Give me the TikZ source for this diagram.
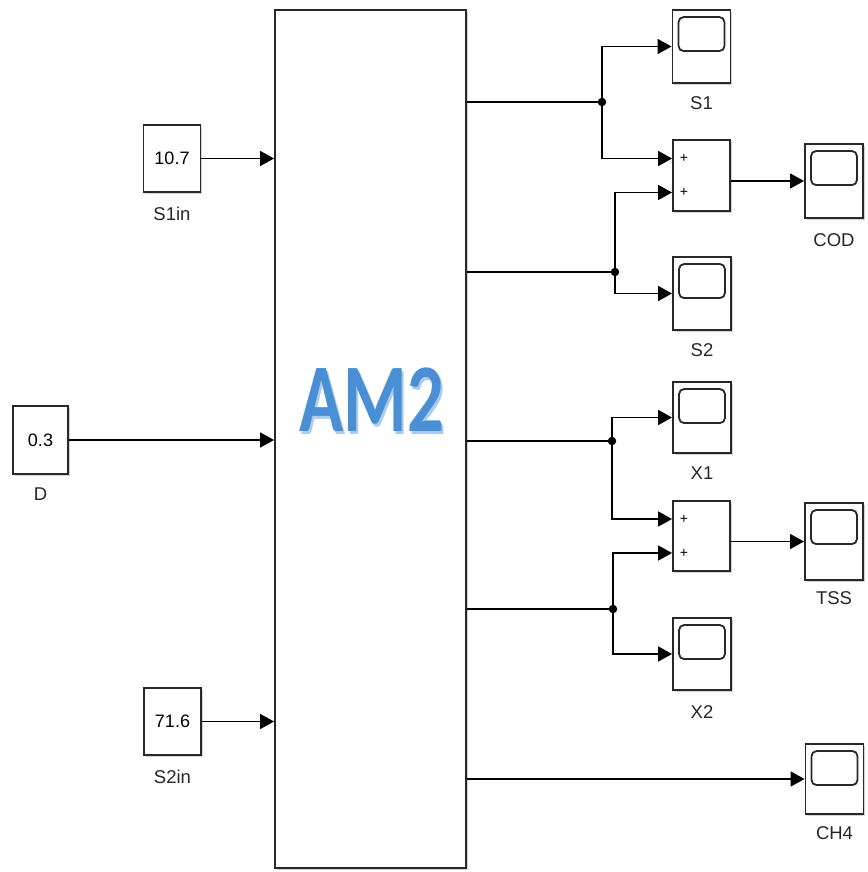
\documentclass[tikz,border=0pt]{standalone}
\usepackage{fontspec}
\setmainfont{Liberation Sans}
\newfontfamily\amfont{Carlito}
\usetikzlibrary{arrows.meta,shadows,calc}
\definecolor{amblue}{RGB}{74,143,214}
\definecolor{amglow}{RGB}{170,205,238}
\definecolor{edge}{RGB}{40,40,40}
\tikzset{
  blk/.style={draw=edge, line width=1.9pt, fill=white, inner sep=0pt,
    drop shadow={shadow xshift=1.8pt, shadow yshift=-2pt, opacity=0.35, fill=gray}},
  constblk/.style={blk, minimum width=57pt, minimum height=67pt, font=\fontsize{18}{20}\selectfont},
  scopeblk/.style={blk, minimum width=58pt, minimum height=72pt},
  sumblk/.style={blk, minimum width=57pt, minimum height=70pt},
  lbl/.style={font=\fontsize{18.5}{20}\selectfont, text=black!85, inner sep=0pt},
  wire/.style={line width=1.7pt, draw=black},
  sig/.style={wire, -{Triangle[length=14pt,width=15pt]}},
  dotn/.style={circle, fill=black, minimum size=8.5pt, inner sep=0pt},
  plus/.style={font=\fontsize{14}{14}\selectfont, inner sep=0pt},
}
\newcommand{\scopescreen}[1]{%
  \draw[line width=1.8pt, draw=edge, rounded corners=5pt]
    ($(#1.north west)+(7,8)$) rectangle ($(#1.north east)+(-7,42)$);}
\newcommand{\amtext}{\fontsize{97}{97}\amfont\bfseries AM2}
\begin{document}
\begin{tikzpicture}[x=1pt,y=-1pt]
\useasboundingbox (0,0) rectangle (867,872);
% main block
\node[blk, minimum width=191pt, minimum height=858pt] (main) at (370.5,439) {};
\node[inner sep=0pt] (am) at (372,401) {\scalebox{0.75}[1]{\makebox[0pt][l]{\hspace{2.5pt}\raisebox{-2.5pt}{\textcolor{amglow}{\amtext}}}\textcolor{amblue}{\amtext}}};
% constants
\node[constblk] (c1) at (172,158.5) {10.7};
\node[lbl] (c1l) at (172,214) {S1in};
\node[constblk, minimum width=55pt, minimum height=68pt] (cD) at (40.5,440) {0.3};
\node[lbl] (cDl) at (40.5,494) {D};
\node[constblk] (c2) at (172.5,721.5) {71.6};
\node[lbl] (c2l) at (172.5,777) {S2in};
\draw[sig] (c1) -- (c1 -| main.west);
\draw[sig] (cD) -- (cD -| main.west);
\draw[sig] (c2) -- (c2 -| main.west);
% scopes
\node[scopeblk, minimum height=73pt] (S1) at (701.5,46.5) {};
\node[lbl] (S1l) at (701.5,103) {S1};
\node[sumblk, minimum height=71pt] (sum1) at (701.5,175.5) {};
\node[scopeblk, minimum height=74pt] (COD) at (834,181) {};
\node[lbl] (CODl) at (834,240) {COD};
\node[scopeblk, minimum height=73pt] (S2) at (702,293.5) {};
\node[lbl] (S2l) at (702,350) {S2};
\node[scopeblk, minimum height=71pt] (X1) at (702,417.5) {};
\node[lbl] (X1l) at (702,473) {X1};
\node[sumblk] (sum2) at (701.5,536) {};
\node[scopeblk, minimum height=77pt] (TSS) at (834,541.5) {};
\node[lbl] (TSSl) at (834,598) {TSS};
\node[scopeblk] (X2) at (702,654) {};
\node[lbl] (X2l) at (702,712) {X2};
\node[scopeblk, minimum height=70pt] (CH4) at (834.5,779) {};
\node[lbl] (CH4l) at (834.5,833) {CH4};
\foreach \s in {S1,COD,S2,X1,TSS,X2,CH4} {\scopescreen{\s}}
% sum inputs
\coordinate (s1a) at ([yshift=17pt]sum1.west);
\coordinate (s1b) at ([yshift=-17pt]sum1.west);
\coordinate (s2a) at ([yshift=17pt]sum2.west);
\coordinate (s2b) at ([yshift=-17pt]sum2.west);
\node[plus] (p1a) at ([xshift=12pt]s1a) {+};
\node[plus] (p1b) at ([xshift=12pt]s1b) {+};
\node[plus] (p2a) at ([xshift=12pt]s2a) {+};
\node[plus] (p2b) at ([xshift=12pt]s2b) {+};
% junctions
\node[dotn] (j1) at (602,102) {};
\node[dotn] (j2) at (615,272) {};
\node[dotn] (j3) at (612,441) {};
\node[dotn] (j4) at (613,609) {};
\draw[wire] (j1 -| main.east) -- (j1.center);
\draw[wire] (j2 -| main.east) -- (j2.center);
\draw[wire] (j3 -| main.east) -- (j3.center);
\draw[wire] (j4 -| main.east) -- (j4.center);
\draw[sig] (j1.center) |- (S1.west);
\draw[sig] (j1.center) |- (s1a);
\draw[sig] (j2.center) |- (s1b);
\draw[sig] (j2.center) |- (S2.west);
\draw[sig] (j3.center) |- (X1.west);
\draw[sig] (j3.center) |- (s2a);
\draw[sig] (j4.center) |- (s2b);
\draw[sig] (j4.center) |- (X2.west);
\draw[sig] (COD.west -| sum1.east) -- (COD.west);
\draw[sig] (TSS.west -| sum2.east) -- (TSS.west);
\draw[sig] (CH4.west -| main.east) -- (CH4.west);
\end{tikzpicture}
\end{document}
